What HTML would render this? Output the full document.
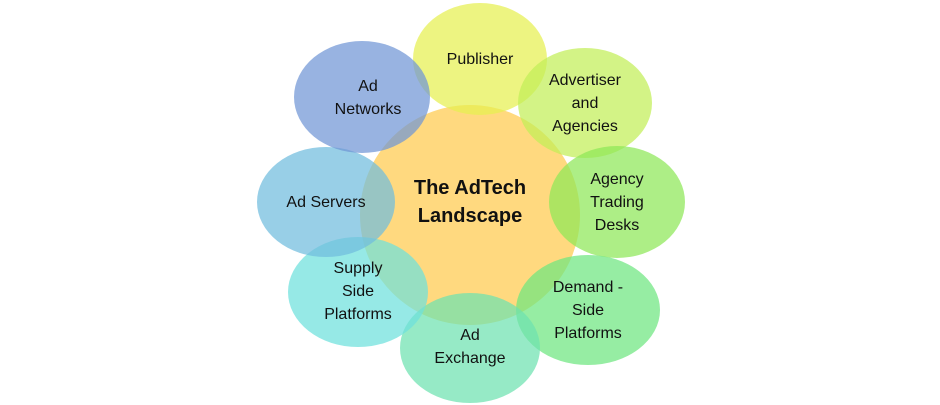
<!DOCTYPE html>
<html><head><meta charset="utf-8"><style>
html,body{margin:0;padding:0;background:#fff;}
svg{display:block;}
text{font-family:"Liberation Sans",sans-serif;font-size:16px;fill:#111;text-anchor:middle;}
</style></head><body>
<svg width="940" height="405" viewBox="0 0 940 405">
<circle cx="470" cy="215" r="110" fill="#ffd97f"/>
<g fill-opacity="0.72">
<ellipse cx="480" cy="59" rx="67" ry="56" fill="#e6f050"/>
<ellipse cx="585" cy="103" rx="67" ry="55" fill="#c2ee58"/>
<ellipse cx="617" cy="202" rx="68" ry="56" fill="#8ee858"/>
<ellipse cx="588" cy="310" rx="72" ry="55" fill="#6ee680"/>
<ellipse cx="470" cy="348" rx="70" ry="55" fill="#6ee2b0"/>
<ellipse cx="358" cy="292" rx="70" ry="55" fill="#6ee0dc"/>
<ellipse cx="326" cy="202" rx="69" ry="55" fill="#70bcde"/>
<ellipse cx="362" cy="97" rx="68" ry="56" fill="#7096d6"/>
</g>
<text x="470" y="194" style="font-weight:bold;font-size:20px">The AdTech</text>
<text x="470" y="222" style="font-weight:bold;font-size:20px">Landscape</text>
<text x="480" y="64">Publisher</text>
<text x="585" y="85">Advertiser</text>
<text x="585" y="108">and</text>
<text x="585" y="131">Agencies</text>
<text x="617" y="184">Agency</text>
<text x="617" y="207">Trading</text>
<text x="617" y="230">Desks</text>
<text x="588" y="292">Demand -</text>
<text x="588" y="315">Side</text>
<text x="588" y="338">Platforms</text>
<text x="470" y="340">Ad</text>
<text x="470" y="363">Exchange</text>
<text x="358" y="273">Supply</text>
<text x="358" y="296">Side</text>
<text x="358" y="319">Platforms</text>
<text x="326" y="207">Ad Servers</text>
<text x="368" y="91">Ad</text>
<text x="368" y="114">Networks</text>
</svg>
</body></html>
